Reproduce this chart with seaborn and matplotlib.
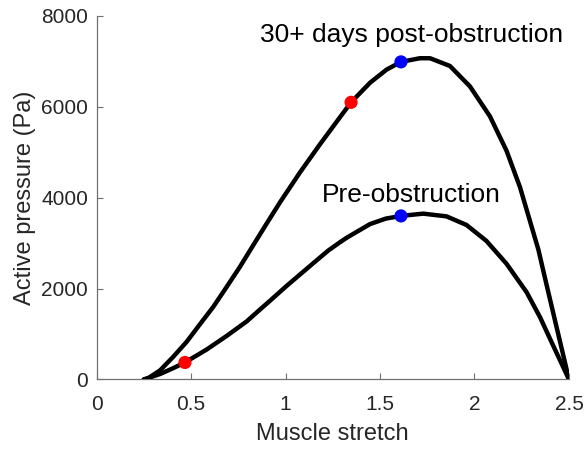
import matplotlib
matplotlib.use("Agg")
import matplotlib.pyplot as plt
import seaborn as sns
import pandas as pd

# Active pressure vs. muscle stretch, before and 30+ days after obstruction
pre_stretch = [0.25, 0.336, 0.406, 0.468, 0.583, 0.689, 0.795, 0.865, 0.909, 1.006,
               1.147, 1.227, 1.288, 1.324, 1.447, 1.53, 1.611, 1.729, 1.852, 1.958,
               2.063, 2.169, 2.276, 2.347, 2.417, 2.461, 2.5]
pre_pressure = [0, 120, 250, 375, 660, 960, 1280, 1540, 1700, 2060,
                2560, 2840, 3020, 3120, 3420, 3540, 3600, 3650, 3590, 3400,
                3050, 2550, 1920, 1370, 740, 350, 0]

post_stretch = [0.25, 0.274, 0.336, 0.406, 0.477, 0.548, 0.618, 0.689, 0.759, 0.83,
                0.9, 0.971, 1.077, 1.183, 1.288, 1.347, 1.447, 1.535, 1.611, 1.711,
                1.765, 1.87, 1.976, 2.082, 2.17, 2.241, 2.338, 2.38, 2.426, 2.47, 2.5]
post_pressure = [0, 30, 200, 500, 830, 1220, 1600, 2040, 2480, 2960,
                 3430, 3900, 4560, 5180, 5770, 6100, 6530, 6820, 6990, 7070,
                 7070, 6900, 6450, 5790, 5030, 4230, 2860, 2110, 1300, 530, 0]

red_stretch = [0.468, 1.347]
red_pressure = [375, 6100]
blue_stretch = [1.611, 1.611]
blue_pressure = [3600, 6990]

curve_labels = ["Pre-obstruction", "30+ days post-obstruction"]
label_x = [1.665, 1.667]
label_y = [3916, 7434]

x_ticks = [0, 0.5, 1, 1.5, 2, 2.5]
x_tick_labels = ["0", "0.5", "1", "1.5", "2", "2.5"]
y_ticks = [0, 2000, 4000, 6000, 8000]

sns.set_style("ticks")
plt.rcParams["font.family"] = ["Liberation Sans", "DejaVu Sans"]

ink = "#262626"
fig = plt.figure(figsize=(5.85, 4.49), dpi=100)
ax = fig.add_axes([0.165, 0.1548, 0.8076, 0.8096])

pre_df = pd.DataFrame({"stretch": pre_stretch, "pressure": pre_pressure})
post_df = pd.DataFrame({"stretch": post_stretch, "pressure": post_pressure})
for df in (pre_df, post_df):
    sns.lineplot(data=df, x="stretch", y="pressure", sort=False, color="black",
                 linewidth=3.2, ax=ax, zorder=3)

sns.scatterplot(x=red_stretch, y=red_pressure, color="#ff0000", s=90,
                edgecolor="none", ax=ax, zorder=4)
sns.scatterplot(x=blue_stretch, y=blue_pressure, color="#0000ff", s=90,
                edgecolor="none", ax=ax, zorder=4)

for txt, tx, ty in zip(curve_labels, label_x, label_y):
    ax.text(tx, ty, txt, ha="center", va="baseline", fontsize=19, color="black")

ax.set_xlim(0, 2.5)
ax.set_ylim(0, 8000)
ax.set_xticks(x_ticks)
ax.set_xticklabels(x_tick_labels)
ax.set_yticks(y_ticks)
ax.set_xlabel("Muscle stretch", fontsize=17, color=ink, labelpad=7)
ax.set_ylabel("Active pressure (Pa)", fontsize=17, color=ink, labelpad=4)
ax.tick_params(direction="in", length=4, width=0.8, color="#707070",
               labelsize=15, labelcolor=ink)
ax.tick_params(axis="x", pad=11)
ax.tick_params(axis="y", pad=6)
for side in ["top", "right"]:
    ax.spines[side].set_visible(False)
for side in ["left", "bottom"]:
    ax.spines[side].set_color("#707070")
    ax.spines[side].set_linewidth(0.9)

fig.savefig("out.png", dpi=100)
